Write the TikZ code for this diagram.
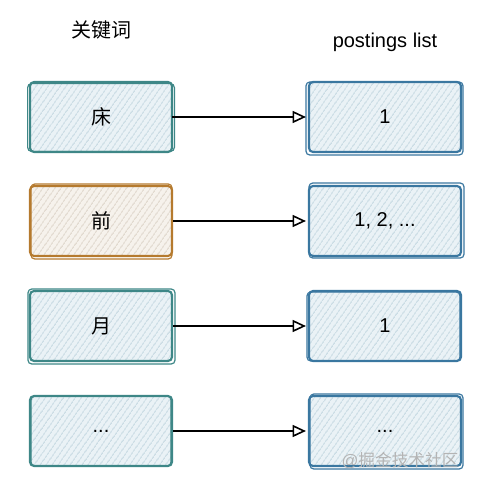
\documentclass[tikz,border=0pt]{standalone}
\usepackage{fontspec}
\setmainfont{Liberation Sans}
\newfontfamily\cjk{Noto Sans CJK SC}
\usetikzlibrary{patterns.meta,arrows.meta}
\definecolor{tealc}{HTML}{3E8787}
\definecolor{orangec}{HTML}{B57A2E}
\definecolor{bluec}{HTML}{3A77A0}
\definecolor{fillc}{HTML}{EAF2F6}
\definecolor{hatchc}{HTML}{B9D0DB}
\definecolor{ofill}{HTML}{F6F2EC}
\definecolor{ohatch}{HTML}{D6CCBF}
\definecolor{markc}{HTML}{B4B4B4}
\begin{document}
\begin{tikzpicture}[x=0.75pt,y=-0.75pt,
  box/.style={rounded corners=3pt, line width=1.6pt,
    font=\fontsize{15}{18}\selectfont, minimum height=52.5pt,
    preaction={fill=fillc},
    pattern={Lines[angle=55,distance=4pt,line width=0.6pt]},
    pattern color=hatchc},
  keybox/.style={box, draw=tealc, minimum width=106.5pt},
  hotbox/.style={box, draw=orangec, minimum width=106.5pt,
    preaction={fill=ofill}, pattern color=ohatch},
  postbox/.style={box, draw=bluec, minimum width=114pt},
  sketch/.style={line width=0.9pt, rounded corners=3pt},
  head/.style={font=\fontsize{15}{18}\selectfont},
  arr/.style={-{Triangle[open,length=10pt,width=9pt,line width=1.2pt]}, shorten >=1.5pt, line width=2pt, draw=black}
]
\useasboundingbox (0,0) rectangle (477,486);

\node[head] (hk) at (101,30) {\cjk 关键词};
\node[head] (hp) at (385,42) {postings list};

\node[keybox] (k1) at (101,117) {\cjk 床};
\node[hotbox] (k2) at (101,221) {\cjk 前};
\node[keybox] (k3) at (101,326) {\cjk 月};
\node[keybox] (k4) at (101,431) {...};

\node[postbox] (p1) at (385,117) {1};
\node[postbox] (p2) at (385,221) {1, 2, ...};
\node[postbox] (p3) at (385,326) {1};
\node[postbox] (p4) at (385,431) {...};

% sketchy second outlines
\draw[sketch, tealc] ([shift={(-2,2)}]k1.north west) rectangle ([shift={(2,-1)}]k1.south east);
\draw[sketch, orangec] ([shift={(2,-1)}]k2.north west) rectangle ([shift={(-1,2)}]k2.south east);
\draw[sketch, tealc] ([shift={(-1,-1)}]k3.north west) rectangle ([shift={(2,2)}]k3.south east);
\draw[sketch, tealc] ([shift={(2,1)}]k4.north west) rectangle ([shift={(-2,-1)}]k4.south east);
\draw[sketch, bluec] ([shift={(-2,1)}]p1.north west) rectangle ([shift={(1,2)}]p1.south east);
\draw[sketch, bluec] ([shift={(1,-2)}]p2.north west) rectangle ([shift={(2,1)}]p2.south east);
\draw[sketch, bluec] ([shift={(-1,2)}]p3.north west) rectangle ([shift={(-2,-1)}]p3.south east);
\draw[sketch, bluec] ([shift={(2,-1)}]p4.north west) rectangle ([shift={(1,2)}]p4.south east);

\draw[arr] (k1.east) -- (p1.west);
\draw[arr] (k2.east) -- (p2.west);
\draw[arr] (k3.east) -- (p3.west);
\draw[arr] (k4.east) -- (p4.west);

\node[font=\fontsize{12.5}{15}\selectfont, text=markc] (wm) at (400,461) {@\cjk 掘金技术社区};
\end{tikzpicture}
\end{document}
